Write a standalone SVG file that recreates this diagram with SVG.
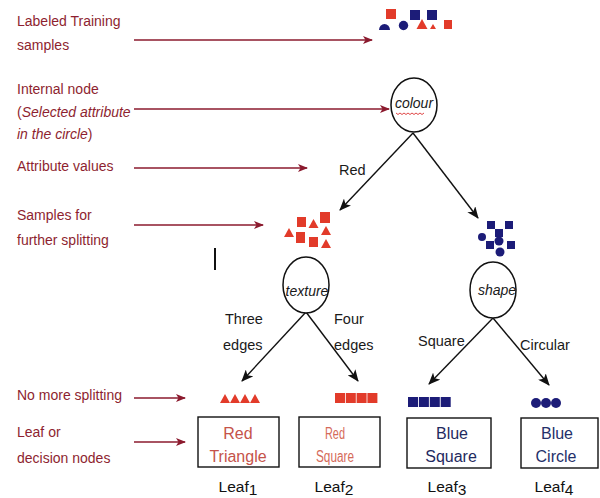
<svg xmlns="http://www.w3.org/2000/svg" width="600" height="498" viewBox="0 0 600 498">
<defs>
<marker id="ra" markerWidth="10" markerHeight="8" refX="9" refY="4" orient="auto" markerUnits="userSpaceOnUse">
<path d="M0,0 L10,4 L0,8 L2.5,4 Z" fill="#8b1a2e"/>
</marker>
<marker id="ba" markerWidth="12" markerHeight="10" refX="11" refY="5" orient="auto" markerUnits="userSpaceOnUse">
<path d="M0,0 L12,5 L0,10 L3,5 Z" fill="#111"/>
</marker>
</defs>
<style>
.lab{font-family:"Liberation Sans",Arial,sans-serif;font-size:14px;fill:#8e1f30}
.tl{font-family:"Liberation Sans",Arial,sans-serif;font-size:14.5px;fill:#1a1a1a}
.nl{font-family:"Liberation Sans",Arial,sans-serif;font-size:14px;font-style:italic;fill:#1a1a1a;text-anchor:middle}
.bt{font-family:"Liberation Sans",Arial,sans-serif;font-size:16px;text-anchor:middle}
.lf{font-family:"Liberation Sans",Arial,sans-serif;font-size:15.5px;fill:#111;text-anchor:middle}
.ra{stroke:#8b1a2e;stroke-width:1.6;fill:none;marker-end:url(#ra)}
.ba{stroke:#111;stroke-width:1.4;fill:none;marker-end:url(#ba)}
.node{fill:#fff;stroke:#111;stroke-width:1.5}
.box{fill:#fff;stroke:#111;stroke-width:1.4}
.r{fill:#e23b2a}
.b{fill:#1c1c78}
</style>
<rect width="600" height="498" fill="#fff"/>

<g id="left-labels">
<text class="lab" x="17" y="26">Labeled Training</text>
<text class="lab" x="17" y="50">samples</text>
<text class="lab" x="17" y="94">Internal  node</text>
<text class="lab" x="17" y="117">(<tspan font-style="italic">Selected attribute</tspan></text>
<text class="lab" x="17" y="139"><tspan font-style="italic">in the circle</tspan>)</text>
<text class="lab" x="17" y="171">Attribute  values</text>
<text class="lab" x="17" y="220">Samples  for</text>
<text class="lab" x="17" y="245">further splitting</text>
<text class="lab" x="17" y="400">No more splitting</text>
<text class="lab" x="17" y="437">Leaf or</text>
<text class="lab" x="17" y="463">decision nodes</text>
</g>

<g id="connectors">
<line class="ra" x1="134" y1="40" x2="372" y2="40"/>
<line class="ra" x1="134" y1="109" x2="389" y2="109"/>
<line class="ra" x1="134" y1="168" x2="307" y2="168"/>
<line class="ra" x1="134" y1="225" x2="263" y2="225"/>
<line class="ra" x1="134" y1="398" x2="185" y2="398"/>
<line class="ra" x1="134" y1="442" x2="185" y2="442"/>
<line class="ba" x1="413" y1="133" x2="340" y2="210"/>
<line class="ba" x1="413" y1="133" x2="478" y2="218"/>
<line class="ba" x1="306" y1="312" x2="242" y2="381"/>
<line class="ba" x1="306" y1="312" x2="358" y2="381"/>
<line class="ba" x1="493" y1="318" x2="429" y2="384"/>
<line class="ba" x1="493" y1="318" x2="549" y2="385"/>
<line x1="215" y1="248" x2="215" y2="270" stroke="#111" stroke-width="2"/>
</g>

<g id="edge-labels">
<text class="tl" x="339" y="175">Red</text>
<text class="tl" x="225" y="324">Three</text>
<text class="tl" x="223" y="350">edges</text>
<text class="tl" x="334" y="324">Four</text>
<text class="tl" x="334" y="350">edges</text>
<text class="tl" x="418" y="346">Square</text>
<text class="tl" x="520" y="350">Circular</text>
</g>

<g id="training-samples">
<rect class="r" x="386" y="9" width="10" height="10"/>
<path class="b" d="M379,30 A5.5,6 0 0 1 390,30 Z"/>
<circle class="b" cx="403.5" cy="25.5" r="4.7"/>
<rect class="b" x="410" y="10" width="10" height="10"/>
<rect class="b" x="427" y="10" width="10" height="10"/>
<path class="r" d="M422,19 L427.5,29 L416.5,29 Z"/>
<path class="r" d="M433,24 L436,29 L430,29 Z"/>
<rect class="r" x="444" y="20" width="8" height="9"/>
</g>

<g id="node-colour">
<ellipse class="node" cx="414" cy="105" rx="23" ry="27"/>
<text class="nl" x="414" y="108">colour</text>
<path d="M396,113 l2,1.5 l2,-1.5 l2,1.5 l2,-1.5 l2,1.5 l2,-1.5 l2,1.5 l2,-1.5 l2,1.5 l2,-1.5 l2,1.5 l2,-1.5 l2,1.5 l2,-1.5" fill="none" stroke="#e04848" stroke-width="1"/>
</g>

<g id="red-samples">
<rect class="r" x="297" y="217" width="9" height="10"/>
<path class="r" d="M313.5,219 L318.5,228 L308.5,228 Z"/>
<rect class="r" x="320" y="212" width="10" height="11"/>
<path class="r" d="M326,226 L331,235 L321,235 Z"/>
<path class="r" d="M289,228 L294,237 L284,237 Z"/>
<rect class="r" x="296" y="232" width="9" height="11"/>
<rect class="r" x="309" y="237" width="9" height="10"/>
<path class="r" d="M326,239 L331,248 L321,248 Z"/>
</g>

<g id="blue-samples">
<rect class="b" x="487" y="221" width="8" height="8"/>
<rect class="b" x="505" y="221" width="8" height="8"/>
<rect class="b" x="495" y="229" width="8" height="8"/>
<circle class="b" cx="482" cy="237" r="4"/>
<circle class="b" cx="499" cy="241" r="4.5"/>
<rect class="b" x="486" y="241" width="8" height="8"/>
<rect class="b" x="507" y="241" width="8" height="8"/>
<circle class="b" cx="500" cy="252" r="4.5"/>
</g>

<g id="node-texture">
<ellipse class="node" cx="306" cy="285" rx="23" ry="28"/>
<text class="nl" x="307" y="296">texture</text>
</g>

<g id="node-shape">
<ellipse class="node" cx="493" cy="290" rx="23" ry="28"/>
<text class="nl" x="497" y="295">shape</text>
</g>

<g id="leaf1">
<path class="r" d="M225,394 L230,403 L220,403 Z M235,394 L240,403 L230,403 Z M245,394 L250,403 L240,403 Z M255,394 L260,403 L250,403 Z"/>
<rect class="box" x="198" y="417" width="81" height="50"/>
<text class="bt" x="238" y="439" fill="#c5534a">Red</text>
<text class="bt" x="238" y="462" fill="#c5534a">Triangle</text>
<text class="lf" x="238" y="492">Leaf<tspan dy="3">1</tspan></text>
</g>

<g id="leaf2">
<rect class="r" x="335" y="393" width="10" height="10"/>
<rect class="r" x="345.8" y="393" width="10" height="10"/>
<rect class="r" x="356.6" y="393" width="10" height="10"/>
<rect class="r" x="367.4" y="393" width="10" height="10"/>
<rect class="box" x="299" y="417" width="81" height="50"/>
<text class="bt" x="335" y="439" fill="#d56a5a" textLength="20" lengthAdjust="spacingAndGlyphs">Red</text>
<text class="bt" x="335" y="462" fill="#d56a5a" textLength="38" lengthAdjust="spacingAndGlyphs">Square</text>
<text class="lf" x="334" y="492" font-size="13.5">Leaf<tspan dy="3">2</tspan></text>
</g>

<g id="leaf3">
<rect class="b" x="408" y="397" width="10" height="10"/>
<rect class="b" x="418.9" y="397" width="10" height="10"/>
<rect class="b" x="429.8" y="397" width="10" height="10"/>
<rect class="b" x="440.7" y="397" width="10" height="10"/>
<rect class="box" x="407" y="418" width="84" height="50"/>
<text class="bt" x="452" y="439" fill="#1f2a60">Blue</text>
<text class="bt" x="451" y="462" fill="#1f2a60">Square</text>
<text class="lf" x="447" y="492">Leaf<tspan dy="3">3</tspan></text>
</g>

<g id="leaf4">
<circle class="b" cx="536" cy="403" r="5"/>
<circle class="b" cx="546" cy="403" r="5"/>
<circle class="b" cx="556" cy="403" r="5"/>
<rect class="box" x="521" y="418" width="77" height="50"/>
<text class="bt" x="557" y="439" fill="#24306a">Blue</text>
<text class="bt" x="556" y="462" fill="#24306a">Circle</text>
<text class="lf" x="554" y="492">Leaf<tspan dy="3">4</tspan></text>
</g>
</svg>
